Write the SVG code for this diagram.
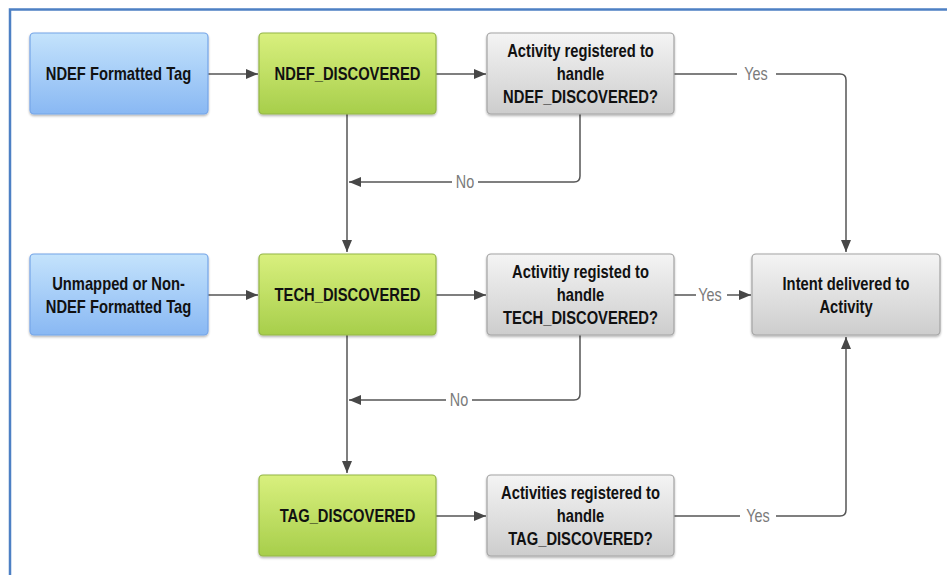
<svg xmlns="http://www.w3.org/2000/svg" width="947" height="575" viewBox="0 0 947 575">
<defs>
<linearGradient id="gBlue" x1="0" y1="0" x2="0" y2="1"><stop offset="0" stop-color="#c4e3fc"/><stop offset="1" stop-color="#89b8f3"/></linearGradient>
<linearGradient id="gGreen" x1="0" y1="0" x2="0" y2="1"><stop offset="0" stop-color="#d9f07e"/><stop offset="1" stop-color="#a7ce4b"/></linearGradient>
<linearGradient id="gGray" x1="0" y1="0" x2="0" y2="1"><stop offset="0" stop-color="#f4f4f4"/><stop offset="1" stop-color="#cdcdcd"/></linearGradient>
<filter id="sh" x="-10%" y="-10%" width="120%" height="130%"><feDropShadow dx="0" dy="1.5" stdDeviation="1.2" flood-color="#000" flood-opacity="0.3"/></filter>
<marker id="arr" markerUnits="userSpaceOnUse" markerWidth="13" markerHeight="11" refX="12" refY="5" orient="auto"><path d="M0,0 L12,5 L0,10 z" fill="#474747"/></marker>
</defs>
<style>
.blue{fill:url(#gBlue);stroke:#75a5e8;stroke-width:1.2;filter:url(#sh)}
.green{fill:url(#gGreen);stroke:#93b547;stroke-width:1.2;filter:url(#sh)}
.gray{fill:url(#gGray);stroke:#a3a3a3;stroke-width:1.2;filter:url(#sh)}
.t{font-family:"Liberation Sans",Arial,sans-serif;font-weight:bold;font-size:18px;fill:#111;text-anchor:middle}
.lbl{font-family:"Liberation Sans",Arial,sans-serif;font-size:18px;fill:#7a7a7a;text-anchor:middle}
.c{fill:none;stroke:#555;stroke-width:1.5}
.ca{fill:none;stroke:#555;stroke-width:1.5;marker-end:url(#arr)}
</style>
<rect width="947" height="575" fill="#fff"/>
<path d="M10,575 V9.5 H947" fill="none" stroke="#4d80c4" stroke-width="2.5"/>
<g id="connectors">
<path class="ca" d="M208,74 H258"/>
<path class="ca" d="M436,74 H486"/>
<path class="c" d="M674,74 H737"/>
<path class="ca" d="M776,74 H840 Q846,74 846,80 V252"/>
<path class="c" d="M580,114 V176 Q580,182 574,182 H478"/>
<path class="ca" d="M452,182 H349"/>
<path class="ca" d="M347,114 V252"/>
<path class="ca" d="M208,295 H258"/>
<path class="ca" d="M436,295 H486"/>
<path class="c" d="M674,295 H696"/>
<path class="ca" d="M727,295 H751"/>
<path class="ca" d="M347,335 V473"/>
<path class="c" d="M580,335 V394 Q580,400 574,400 H472"/>
<path class="ca" d="M446,400 H349"/>
<path class="ca" d="M436,516 H486"/>
<path class="c" d="M674,516 H740"/>
<path class="ca" d="M776,516 H840 Q846,516 846,510 V337"/>
<g transform="translate(756,0) scale(0.8,1)"><text class="lbl" x="0" y="80.5">Yes</text></g>
<g transform="translate(465,0) scale(0.8,1)"><text class="lbl" x="0" y="188.5">No</text></g>
<g transform="translate(710,0) scale(0.8,1)"><text class="lbl" x="0" y="301.5">Yes</text></g>
<g transform="translate(459,0) scale(0.8,1)"><text class="lbl" x="0" y="406.5">No</text></g>
<g transform="translate(758,0) scale(0.8,1)"><text class="lbl" x="0" y="522.5">Yes</text></g>
</g>
<g id="ndef-tag">
<rect class="blue" x="30" y="33" width="178" height="81" rx="4"/>
<g transform="translate(118.5,0) scale(0.82,1)"><text class="t" x="0" y="80.5">NDEF Formatted Tag</text></g>
</g>
<g id="ndef-discovered">
<rect class="green" x="259" y="33" width="177" height="81" rx="4"/>
<g transform="translate(347.5,0) scale(0.82,1)"><text class="t" x="0" y="80.5">NDEF_DISCOVERED</text></g>
</g>
<g id="ndef-activity">
<rect class="gray" x="487" y="33" width="187" height="81" rx="4"/>
<g transform="translate(580.5,0) scale(0.82,1)"><text class="t" x="0" y="57.5">Activity registered to</text><text class="t" x="0" y="80.5">handle</text><text class="t" x="0" y="103.5">NDEF_DISCOVERED?</text></g>
</g>
<g id="unmapped-tag">
<rect class="blue" x="30" y="254" width="178" height="81" rx="4"/>
<g transform="translate(118.5,0) scale(0.82,1)"><text class="t" x="0" y="290">Unmapped or Non-</text><text class="t" x="0" y="313">NDEF Formatted Tag</text></g>
</g>
<g id="tech-discovered">
<rect class="green" x="259" y="254" width="177" height="81" rx="4"/>
<g transform="translate(347.5,0) scale(0.82,1)"><text class="t" x="0" y="301.5">TECH_DISCOVERED</text></g>
</g>
<g id="tech-activity">
<rect class="gray" x="487" y="254" width="187" height="81" rx="4"/>
<g transform="translate(580.5,0) scale(0.82,1)"><text class="t" x="0" y="278.5">Activitiy registed to</text><text class="t" x="0" y="301.5">handle</text><text class="t" x="0" y="324.5">TECH_DISCOVERED?</text></g>
</g>
<g id="intent-delivered">
<rect class="gray" x="752" y="254" width="188" height="81" rx="4"/>
<g transform="translate(846,0) scale(0.82,1)"><text class="t" x="0" y="290">Intent delivered to</text><text class="t" x="0" y="313">Activity</text></g>
</g>
<g id="tag-discovered">
<rect class="green" x="259" y="475" width="177" height="81" rx="4"/>
<g transform="translate(347.5,0) scale(0.82,1)"><text class="t" x="0" y="522.5">TAG_DISCOVERED</text></g>
</g>
<g id="tag-activity">
<rect class="gray" x="487" y="475" width="187" height="81" rx="4"/>
<g transform="translate(580.5,0) scale(0.82,1)"><text class="t" x="0" y="499.5">Activities registered to</text><text class="t" x="0" y="522.5">handle</text><text class="t" x="0" y="545.5">TAG_DISCOVERED?</text></g>
</g>
</svg>
